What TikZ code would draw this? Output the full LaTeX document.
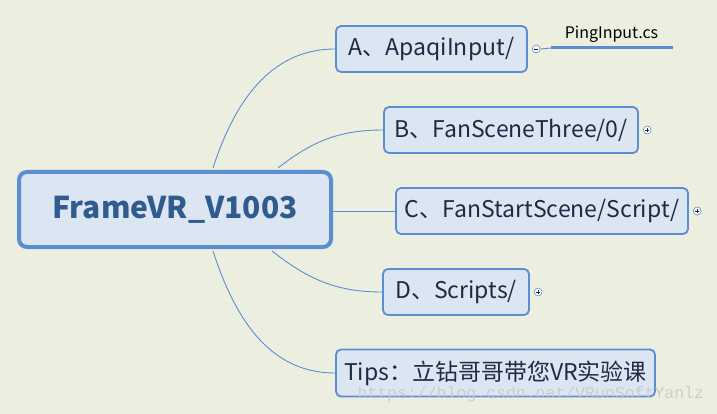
\documentclass[tikz,border=0pt]{standalone}
\usepackage{fontspec}
\setmainfont{Noto Sans CJK SC}
\newfontfamily\urlfont{Liberation Mono}
\usepackage{tikz}
\usetikzlibrary{positioning,calc}
\definecolor{MapBack}{HTML}{ECEFDF}
\definecolor{MapBlue}{HTML}{5B8DD3}
\definecolor{MapFill}{HTML}{DCE6F2}
\definecolor{RootText}{HTML}{2F5B8E}
\definecolor{TopicText}{HTML}{1D2B44}

\begin{document}
\begin{tikzpicture}[
  x=1pt, y=1pt,
  root/.style={rounded corners=8pt, draw=MapBlue, line width=4pt, fill=MapFill, text=RootText, font=\fontsize{30}{36}\selectfont\bfseries, minimum width=312pt, minimum height=75pt},
  topic/.style={rounded corners=5pt, draw=MapBlue, line width=1.8pt, fill=MapFill, text=TopicText, font=\fontsize{23}{27}\selectfont, minimum height=46pt},
  branch/.style={draw=MapBlue, line width=0.9pt},
  expand/.style={circle, draw=MapBlue!80!gray, fill=white, line width=0.6pt, minimum size=8pt, inner sep=0pt,
    path picture={\draw[TopicText, line width=0.6pt] ([xshift=-2.2pt]path picture bounding box.center) -- ([xshift=2.2pt]path picture bounding box.center);
                  \draw[TopicText, line width=0.6pt] ([yshift=-2.2pt]path picture bounding box.center) -- ([yshift=2.2pt]path picture bounding box.center);}},
  collapse/.style={circle, draw=MapBlue!80!gray, fill=white, line width=0.6pt, minimum size=8pt, inner sep=0pt,
    path picture={\draw[TopicText, line width=0.6pt] ([xshift=-2.2pt]path picture bounding box.center) -- ([xshift=2.2pt]path picture bounding box.center);}},
  leaf/.style={text=black, font=\fontsize{16}{19}\selectfont, inner sep=1pt}
]
\fill[MapBack] (0,0) rectangle (717,-414);
\useasboundingbox (0,0) rectangle (717,-414);

\node[root] (frame) at (175,-209.5) {FrameVR\_V1003};

\node[topic, minimum width=191pt] (apaqi) at (431.5,-49) {A、ApaqiInput/};
\node[topic, minimum width=254pt] (three) at (511,-130) {B、FanSceneThree/0/};
\node[topic, minimum width=292pt] (start) at (542,-211) {C、FanStartScene/Script/};
\node[topic, minimum width=146pt] (scripts) at (456,-292) {D、Scripts/};
\node[topic, minimum width=319pt, minimum height=47pt] (tips) at (495.5,-373) {Tips：立钻哥哥带您VR实验课};

\node[collapse, right=4pt of apaqi] (apaqiout) {};
\node[expand, right=4pt of three] {};
\node[expand, right=4pt of start] {};
\node[expand, right=4pt of scripts] {};

\node[leaf] (ping) at (611.5,-34) {PingInput.cs};
\coordinate (pingleft) at (551,-48);
\coordinate (pingright) at (673,-48);

% branches
\draw[branch] ($(frame.north west)+(196,2)$) to[out=72,in=180] (apaqi.west);
\draw[branch] ($(frame.north west)+(261,2)$) to[out=38,in=180] (three.west);
\draw[branch] (frame.east |- start.west) -- (start.west);
\draw[branch] ($(frame.south west)+(255,-2)$) to[out=-38,in=180] (scripts.west);
\draw[branch] ($(frame.south west)+(196,-2)$) to[out=-72,in=180] (tips.west);

\draw[branch] (apaqiout.east) -- (pingleft);
\draw[MapBlue, line width=3pt] (pingleft) -- (pingright);

% watermark
\node[text=gray!45, opacity=0.8, font=\urlfont\fontsize{16.5}{18}\selectfont, anchor=base west] (mark) at (354,-398) {https://blog.csdn.net/VRunSoftYanlz};
\end{tikzpicture}
\end{document}
